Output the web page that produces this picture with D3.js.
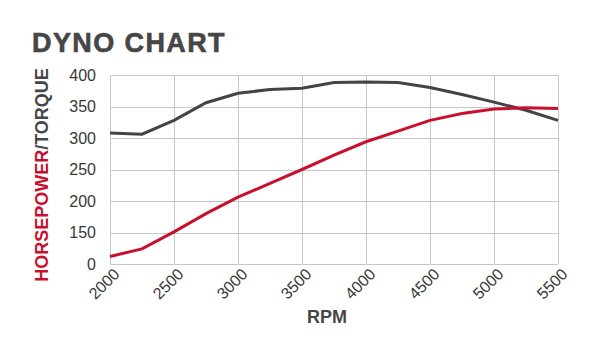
<!DOCTYPE html>
<html>
<head>
<meta charset="utf-8">
<script src="https://cdn.jsdelivr.net/npm/d3@7"></script>
<style>
  body { margin: 0; background: #fff; }
  text { font-family: "Liberation Sans", Arial, sans-serif; }
</style>
</head>
<body>
<div id="chart"></div>
<script>
"use strict";

// data, every 250 rpm
var rpm = [2000, 2250, 2500, 2750, 3000, 3250, 3500, 3750, 4000, 4250, 4500, 4750, 5000, 5250, 5500];
var horsepower = [112, 124, 151, 180, 206, 228, 250, 273, 294, 311, 328, 339, 346, 348, 347];
var torque = [308, 306, 328, 356, 371, 377, 379, 388, 389, 388, 380, 369, 357, 344, 328];

var xTicks = [2000, 2500, 3000, 3500, 4000, 4500, 5000, 5500];
var yTicks = [100, 150, 200, 250, 300, 350, 400];
var yTickLabels = ["0", "150", "200", "250", "300", "350", "400"];

var W = 610, H = 363,
    margin = {top: 75, right: 52, bottom: 99, left: 110},
    plot_dx = W - margin.left - margin.right,
    plot_dy = H - margin.top - margin.bottom;

var svg = d3.select("#chart").append("svg")
    .attr("width", W)
    .attr("height", H);

var x = d3.scaleLinear().domain([2000, 5500]).range([margin.left, margin.left + plot_dx]);
var y = d3.scaleLinear().domain([100, 400]).range([margin.top + plot_dy, margin.top]);

// grid
var grid = svg.append("g").attr("stroke", "#c4c8cc").attr("stroke-width", 1);
grid.selectAll("line.h").data(yTicks).enter().append("line")
    .attr("x1", margin.left).attr("x2", margin.left + plot_dx)
    .attr("y1", d => Math.round(y(d)) + 0.5).attr("y2", d => Math.round(y(d)) + 0.5);
grid.selectAll("line.v").data(xTicks).enter().append("line")
    .attr("y1", margin.top).attr("y2", margin.top + plot_dy)
    .attr("x1", d => Math.round(x(d)) + 0.5).attr("x2", d => Math.round(x(d)) + 0.5);

// axes (labels only)
var axis_y = d3.axisLeft(y).tickValues(yTicks).tickSize(0).tickPadding(14)
    .tickFormat((d, i) => yTickLabels[i]);
var gy = svg.append("g")
    .attr("transform", "translate(" + margin.left + ",0)")
    .call(axis_y);
gy.select(".domain").remove();
gy.selectAll("text").attr("font-size", 16).attr("fill", "#383838")
    .style("font-family", "'Liberation Sans', Arial, sans-serif");

var axis_x = d3.axisBottom(x).tickValues(xTicks).tickSize(0).tickFormat(d3.format("d"));
var gx = svg.append("g")
    .attr("transform", "translate(0," + (margin.top + plot_dy) + ")")
    .call(axis_x);
gx.select(".domain").remove();
gx.selectAll("text")
    .attr("font-size", 16).attr("fill", "#383838")
    .style("font-family", "'Liberation Sans', Arial, sans-serif")
    .attr("text-anchor", "end")
    .attr("dy", "0.35em")
    .attr("transform", "translate(4,5) rotate(-45)");

// lines
var line = d3.line().x((d, i) => x(rpm[i])).y(d => y(d));
svg.append("path").datum(torque)
    .attr("d", line).attr("fill", "none")
    .attr("stroke", "#444444").attr("stroke-width", 3);
svg.append("path").datum(horsepower)
    .attr("d", line).attr("fill", "none")
    .attr("stroke", "#c8102e").attr("stroke-width", 3);

// title and axis titles
svg.append("text")
    .attr("x", 32).attr("y", 52)
    .attr("font-size", 27).attr("font-weight", "bold")
    .attr("letter-spacing", 1.4)
    .attr("fill", "#464646")
    .attr("stroke", "#464646").attr("stroke-width", 0.6)
    .text("DYNO CHART");

svg.append("text")
    .attr("x", 327).attr("y", 323)
    .attr("text-anchor", "middle")
    .attr("font-size", 18).attr("font-weight", "bold")
    .attr("fill", "#464646")
    .text("RPM");

var yl = svg.append("text")
    .attr("transform", "translate(48,175) rotate(-90)")
    .attr("text-anchor", "middle")
    .attr("font-size", 18).attr("font-weight", "bold");
yl.append("tspan").attr("fill", "#c8102e").text("HORSEPOWER");
yl.append("tspan").attr("fill", "#464646").text("/TORQUE");
</script>
</body>
</html>
